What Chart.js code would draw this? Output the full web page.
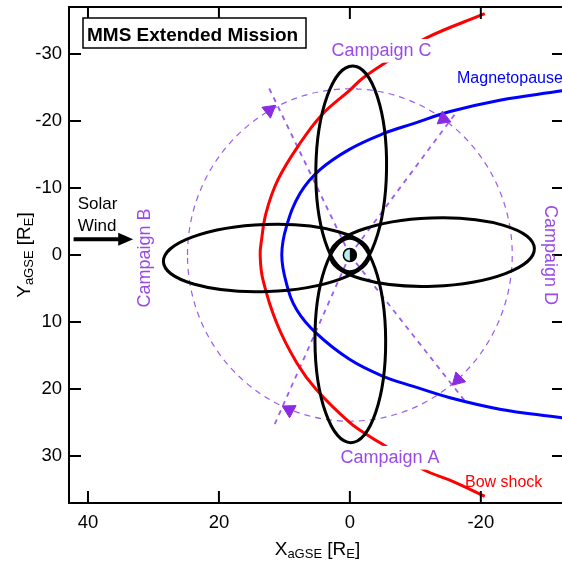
<!DOCTYPE html>
<html><head><meta charset="utf-8">
<script src="https://cdn.jsdelivr.net/npm/chart.js@4.4.0/dist/chart.umd.min.js"></script>
<style>html,body{margin:0;padding:0;background:#fff;overflow:hidden}#wrap{width:562px;height:563px;position:relative}</style>
</head><body><div id="wrap"><canvas id="c" width="562" height="563"></canvas></div>
<script>
// ---- data (R_E, aGSE coordinates) ----
const xTickValues = [40, 20, 0, -20];
const yTickValues = [-30, -20, -10, 0, 10, 20, 30];
const xRange = [-32.4, 42.9];
const yRange = [-37, 37];

const bowShockX = [-20.6, -11.7, -6.1, -2.0, 0, 4.3, 7.8, 11.0, 12.8, 13.5, 13.7, 13.3, 11.2, 8.1, 5.1, 0, -3.1, -5.6, -11.2, -15.8, -20.6];
const bowShockY = [-36.0, -32.4, -29.1, -26.4, -24.6, -20.9, -16.4, -11.2, -6.3, -2.2, 0, 3.6, 10.1, 16.1, 20.1, 25.0, 27.1, 28.6, 32.0, 33.8, 36.0];

const magnetopauseX = [-34, -32.4, -22.9, -15.3, -9.7, -5.1, 0, 4.6, 7.6, 9.7, 10.4, 9.7, 8.1, 5.1, 0, -5.1, -9.7, -15.3, -22.9, -32.4, -34];
const magnetopauseY = [-24.8, -24.5, -23.1, -21.4, -19.6, -18.1, -15.8, -12.7, -9.2, -4.2, 0, 4.2, 8.2, 11.7, 15.6, 18.1, 19.6, 21.3, 23.0, 24.3, 24.6];

const orbitNames = ['Campaign A', 'Campaign B', 'Campaign C', 'Campaign D'];
const orbitApogee = [28.0, 28.5, 28.2, 28.2];
const orbitPerigee = [2.5, 3.0, 2.5, 3.0];
const orbitSemiMinor = [5.4, 5.0, 5.4, 5.1];
const orbitAngle = [90.3, 2.0, 269.1, 182.0];

const campaignCircleRadius = 24.8;
const rayEndX = [12.4, 11.6, -16.5, -17.9];
const rayEndY = [-25.0, 25.5, -21.6, 22.2];
const arrowX = [12.3, 9.25, -14.3, -16.5];
const arrowY = [-21.6, 23.1, -20.3, 18.6];
const arrowRotation = [172, 178, 352, 225];

const solarWindArrowX = [42.2, 33.1];
const solarWindArrowY = [-2.34, -2.34];

// ---- styles ----
const FONT = "'Liberation Sans', Arial, sans-serif";
const PURPLE_TEXT = '#9a4ae6';
const PURPLE_LINE = '#9b5cf0';
const PURPLE_FILL = '#8a2be2';

const toPts = (xs, ys) => xs.map((x, i) => ({x: x, y: ys[i]}));

const datasets = [];
rayEndX.forEach((x, i) => {
  datasets.push({
    data: [{x: 0, y: 0}, {x: x, y: rayEndY[i]}],
    showLine: true, borderColor: PURPLE_LINE, borderWidth: 1.8, borderDash: [5, 5],
    pointRadius: 0, order: 10
  });
});
datasets.push({
  label: 'Bow shock', data: toPts(bowShockX, bowShockY), showLine: true,
  borderColor: '#ff0000', borderWidth: 3, pointRadius: 0, tension: 0.4, order: 5
});
const MP_INDEX = datasets.length;
datasets.push({
  label: 'Magnetopause', data: toPts(magnetopauseX, magnetopauseY), showLine: true,
  borderColor: '#0000ff', borderWidth: 3, pointRadius: 0, tension: 0.4, order: 4
});
datasets.push({
  label: 'arrows', data: toPts(arrowX, arrowY), showLine: false,
  pointStyle: 'triangle', pointRadius: 8, pointRotation: arrowRotation,
  pointBackgroundColor: PURPLE_FILL, pointBorderColor: PURPLE_FILL, pointBorderWidth: 1, order: 0
});

function clipArea(ctx, a) { ctx.beginPath(); ctx.rect(a.left, a.top, a.right - a.left, a.bottom - a.top); ctx.clip(); }

function dataEllipse(chart, cx, cy, a, b, thDeg) {
  const xs = chart.scales.x, ys = chart.scales.y;
  const th = thDeg * Math.PI / 180;
  const pcx = xs.getPixelForValue(cx), pcy = ys.getPixelForValue(cy);
  const mx = xs.getPixelForValue(cx + a * Math.cos(th)) - pcx;
  const my = ys.getPixelForValue(cy + a * Math.sin(th)) - pcy;
  const nx = xs.getPixelForValue(cx - b * Math.sin(th)) - pcx;
  const ny = ys.getPixelForValue(cy + b * Math.cos(th)) - pcy;
  const ctx = chart.ctx;
  ctx.beginPath();
  ctx.ellipse(pcx, pcy, Math.hypot(mx, my), Math.hypot(nx, ny), Math.atan2(my, mx), 0, Math.PI * 2);
}

function boxedText(ctx, text, x, y, align, color, size, pad) {
  ctx.font = size + 'px ' + FONT;
  ctx.textAlign = align; ctx.textBaseline = 'alphabetic';
  const w = ctx.measureText(text).width;
  let x0 = align === 'center' ? x - w / 2 : (align === 'right' ? x - w : x);
  if (pad !== undefined) {
    ctx.fillStyle = '#fff';
    ctx.fillRect(x0 - pad, y - size * 0.78 - pad, w + 2 * pad, size * 0.98 + 2 * pad);
  }
  ctx.fillStyle = color;
  ctx.fillText(text, x, y);
}

function subText(ctx, parts, x, y, align) {
  let total = 0;
  parts.forEach(p => { ctx.font = p[1] + 'px ' + FONT; total += ctx.measureText(p[0]).width; });
  let cx = align === 'center' ? x - total / 2 : x;
  ctx.textAlign = 'left'; ctx.textBaseline = 'alphabetic'; ctx.fillStyle = '#000';
  parts.forEach(p => { ctx.font = p[1] + 'px ' + FONT; ctx.fillText(p[0], cx, y + p[2]); cx += ctx.measureText(p[0]).width; });
}

const decor = {
  id: 'decor',
  beforeDatasetsDraw(chart) {
    const ctx = chart.ctx;
    ctx.save(); clipArea(ctx, chart.chartArea);
    dataEllipse(chart, 0, 0, campaignCircleRadius, campaignCircleRadius, 0);
    ctx.strokeStyle = PURPLE_LINE; ctx.lineWidth = 1.2; ctx.setLineDash([6, 5]);
    ctx.stroke();
    ctx.restore();
  },
  afterDatasetDraw(chart, args) {
    if (args.index !== MP_INDEX) return;
    const ctx = chart.ctx;
    ctx.save(); clipArea(ctx, chart.chartArea);
    ctx.strokeStyle = '#000'; ctx.lineWidth = 3; ctx.setLineDash([]);
    orbitNames.forEach((n, i) => {
      const th = orbitAngle[i] * Math.PI / 180;
      const a = (orbitApogee[i] + orbitPerigee[i]) / 2;
      const c = (orbitApogee[i] - orbitPerigee[i]) / 2;
      dataEllipse(chart, c * Math.cos(th), c * Math.sin(th), a, orbitSemiMinor[i], orbitAngle[i]);
      ctx.stroke();
    });
    const ex = chart.scales.x.getPixelForValue(0), ey = chart.scales.y.getPixelForValue(0);
    const r = 6.5;
    ctx.beginPath(); ctx.arc(ex, ey, r, Math.PI / 2, Math.PI * 1.5); ctx.closePath();
    ctx.fillStyle = '#b4f0f0'; ctx.fill();
    ctx.beginPath(); ctx.arc(ex, ey, r, -Math.PI / 2, Math.PI / 2); ctx.closePath();
    ctx.fillStyle = '#000'; ctx.fill();
    ctx.beginPath(); ctx.arc(ex, ey, r, 0, Math.PI * 2);
    ctx.lineWidth = 1.5; ctx.strokeStyle = '#000'; ctx.stroke();
    ctx.restore();
  },
  afterDraw(chart) {
    const ctx = chart.ctx, a = chart.chartArea;
    const xs = chart.scales.x, ys = chart.scales.y;
    ctx.save();
    ctx.strokeStyle = '#000'; ctx.lineWidth = 2; ctx.setLineDash([]);
    ctx.beginPath();
    ctx.moveTo(a.right + 2, a.top); ctx.lineTo(a.left, a.top); ctx.lineTo(a.left, a.bottom); ctx.lineTo(a.right + 2, a.bottom);
    ctx.stroke();
    ctx.beginPath();
    xTickValues.forEach(v => {
      const p = xs.getPixelForValue(v);
      ctx.moveTo(p, a.bottom); ctx.lineTo(p, a.bottom - 12);
      ctx.moveTo(p, a.top); ctx.lineTo(p, a.top + 12);
    });
    yTickValues.forEach(v => {
      const p = ys.getPixelForValue(v);
      ctx.moveTo(a.left, p); ctx.lineTo(a.left + 12, p);
      ctx.moveTo(a.right, p); ctx.lineTo(a.right - 10, p);
    });
    ctx.stroke();

    ctx.fillStyle = '#fff'; ctx.fillRect(83, 18, 223, 30);
    ctx.lineWidth = 1.5; ctx.strokeRect(83, 18, 223, 30);
    ctx.font = 'bold 19px ' + FONT; ctx.fillStyle = '#000'; ctx.textAlign = 'left'; ctx.textBaseline = 'alphabetic';
    ctx.fillText('MMS Extended Mission', 87, 40.5);

    boxedText(ctx, orbitNames[2], 381.5, 56, 'center', PURPLE_TEXT, 18, 3);
    boxedText(ctx, orbitNames[0], 390, 463, 'center', PURPLE_TEXT, 18, 3);
    ctx.save(); ctx.translate(149.6, 258); ctx.rotate(-Math.PI / 2);
    boxedText(ctx, orbitNames[1], 0, 0, 'center', PURPLE_TEXT, 18);
    ctx.restore();
    ctx.save(); ctx.translate(545.4, 255); ctx.rotate(Math.PI / 2);
    boxedText(ctx, orbitNames[3], 0, 0, 'center', PURPLE_TEXT, 18);
    ctx.restore();
    boxedText(ctx, 'Magnetopause', 457, 83.2, 'left', '#0000ff', 16);
    boxedText(ctx, 'Bow shock', 465, 486.5, 'left', '#ff0000', 16);

    boxedText(ctx, 'Solar', 77.7, 209.2, 'left', '#000', 17);
    boxedText(ctx, 'Wind', 77.7, 230.5, 'left', '#000', 17);
    const sx0 = xs.getPixelForValue(solarWindArrowX[0]), sx1 = xs.getPixelForValue(solarWindArrowX[1]);
    const sy = ys.getPixelForValue(solarWindArrowY[0]);
    ctx.strokeStyle = '#000'; ctx.lineWidth = 4;
    ctx.beginPath(); ctx.moveTo(sx0, sy); ctx.lineTo(sx1 - 13, sy); ctx.stroke();
    ctx.beginPath(); ctx.moveTo(sx1, sy); ctx.lineTo(sx1 - 15, sy - 6.5); ctx.lineTo(sx1 - 15, sy + 6.5); ctx.closePath();
    ctx.fillStyle = '#000'; ctx.fill();

    subText(ctx, [['X', 19, 0], ['aGSE', 13, 3], [' [R', 19, 0], ['E', 13, 3], [']', 19, 0]], (a.left + a.right) / 2 + 2, 555, 'center');
    ctx.save(); ctx.translate(30, (a.top + a.bottom) / 2); ctx.rotate(-Math.PI / 2);
    subText(ctx, [['Y', 19, 0], ['aGSE', 13, 3], [' [R', 19, 0], ['E', 13, 3], [']', 19, 0]], 0, 0, 'center');
    ctx.restore();
    ctx.restore();
  }
};

const zeroPad = s => { s.paddingTop = 0; s.paddingBottom = 0; s.paddingLeft = 0; s.paddingRight = 0; };
const tickFont = {family: FONT, size: 18.5};
new Chart(document.getElementById('c'), {
  type: 'scatter',
  data: {datasets: datasets},
  options: {
    responsive: false, animation: false, devicePixelRatio: 1,
    layout: {autoPadding: false, padding: {top: 7, right: 0, left: 0, bottom: 0}},
    plugins: {legend: {display: false}, tooltip: {enabled: false}},
    scales: {
      x: {
        type: 'linear', reverse: true, min: xRange[0], max: xRange[1],
        afterBuildTicks: s => { s.ticks = xTickValues.map(v => ({value: v})); },
        afterFit: s => { s.height = 60; zeroPad(s); },
        grid: {display: false, drawTicks: false}, border: {display: false},
        ticks: {padding: 9, font: tickFont, color: '#000', maxRotation: 0, autoSkip: false, callback: v => String(v)}
      },
      y: {
        type: 'linear', reverse: true, min: yRange[0], max: yRange[1],
        afterBuildTicks: s => { s.ticks = yTickValues.map(v => ({value: v})); },
        afterFit: s => { s.width = 69; zeroPad(s); },
        grid: {display: false, drawTicks: false}, border: {display: false},
        ticks: {padding: 7, font: tickFont, color: '#000', autoSkip: false, callback: v => String(v)}
      }
    }
  },
  plugins: [decor]
});
</script>
</body></html>
